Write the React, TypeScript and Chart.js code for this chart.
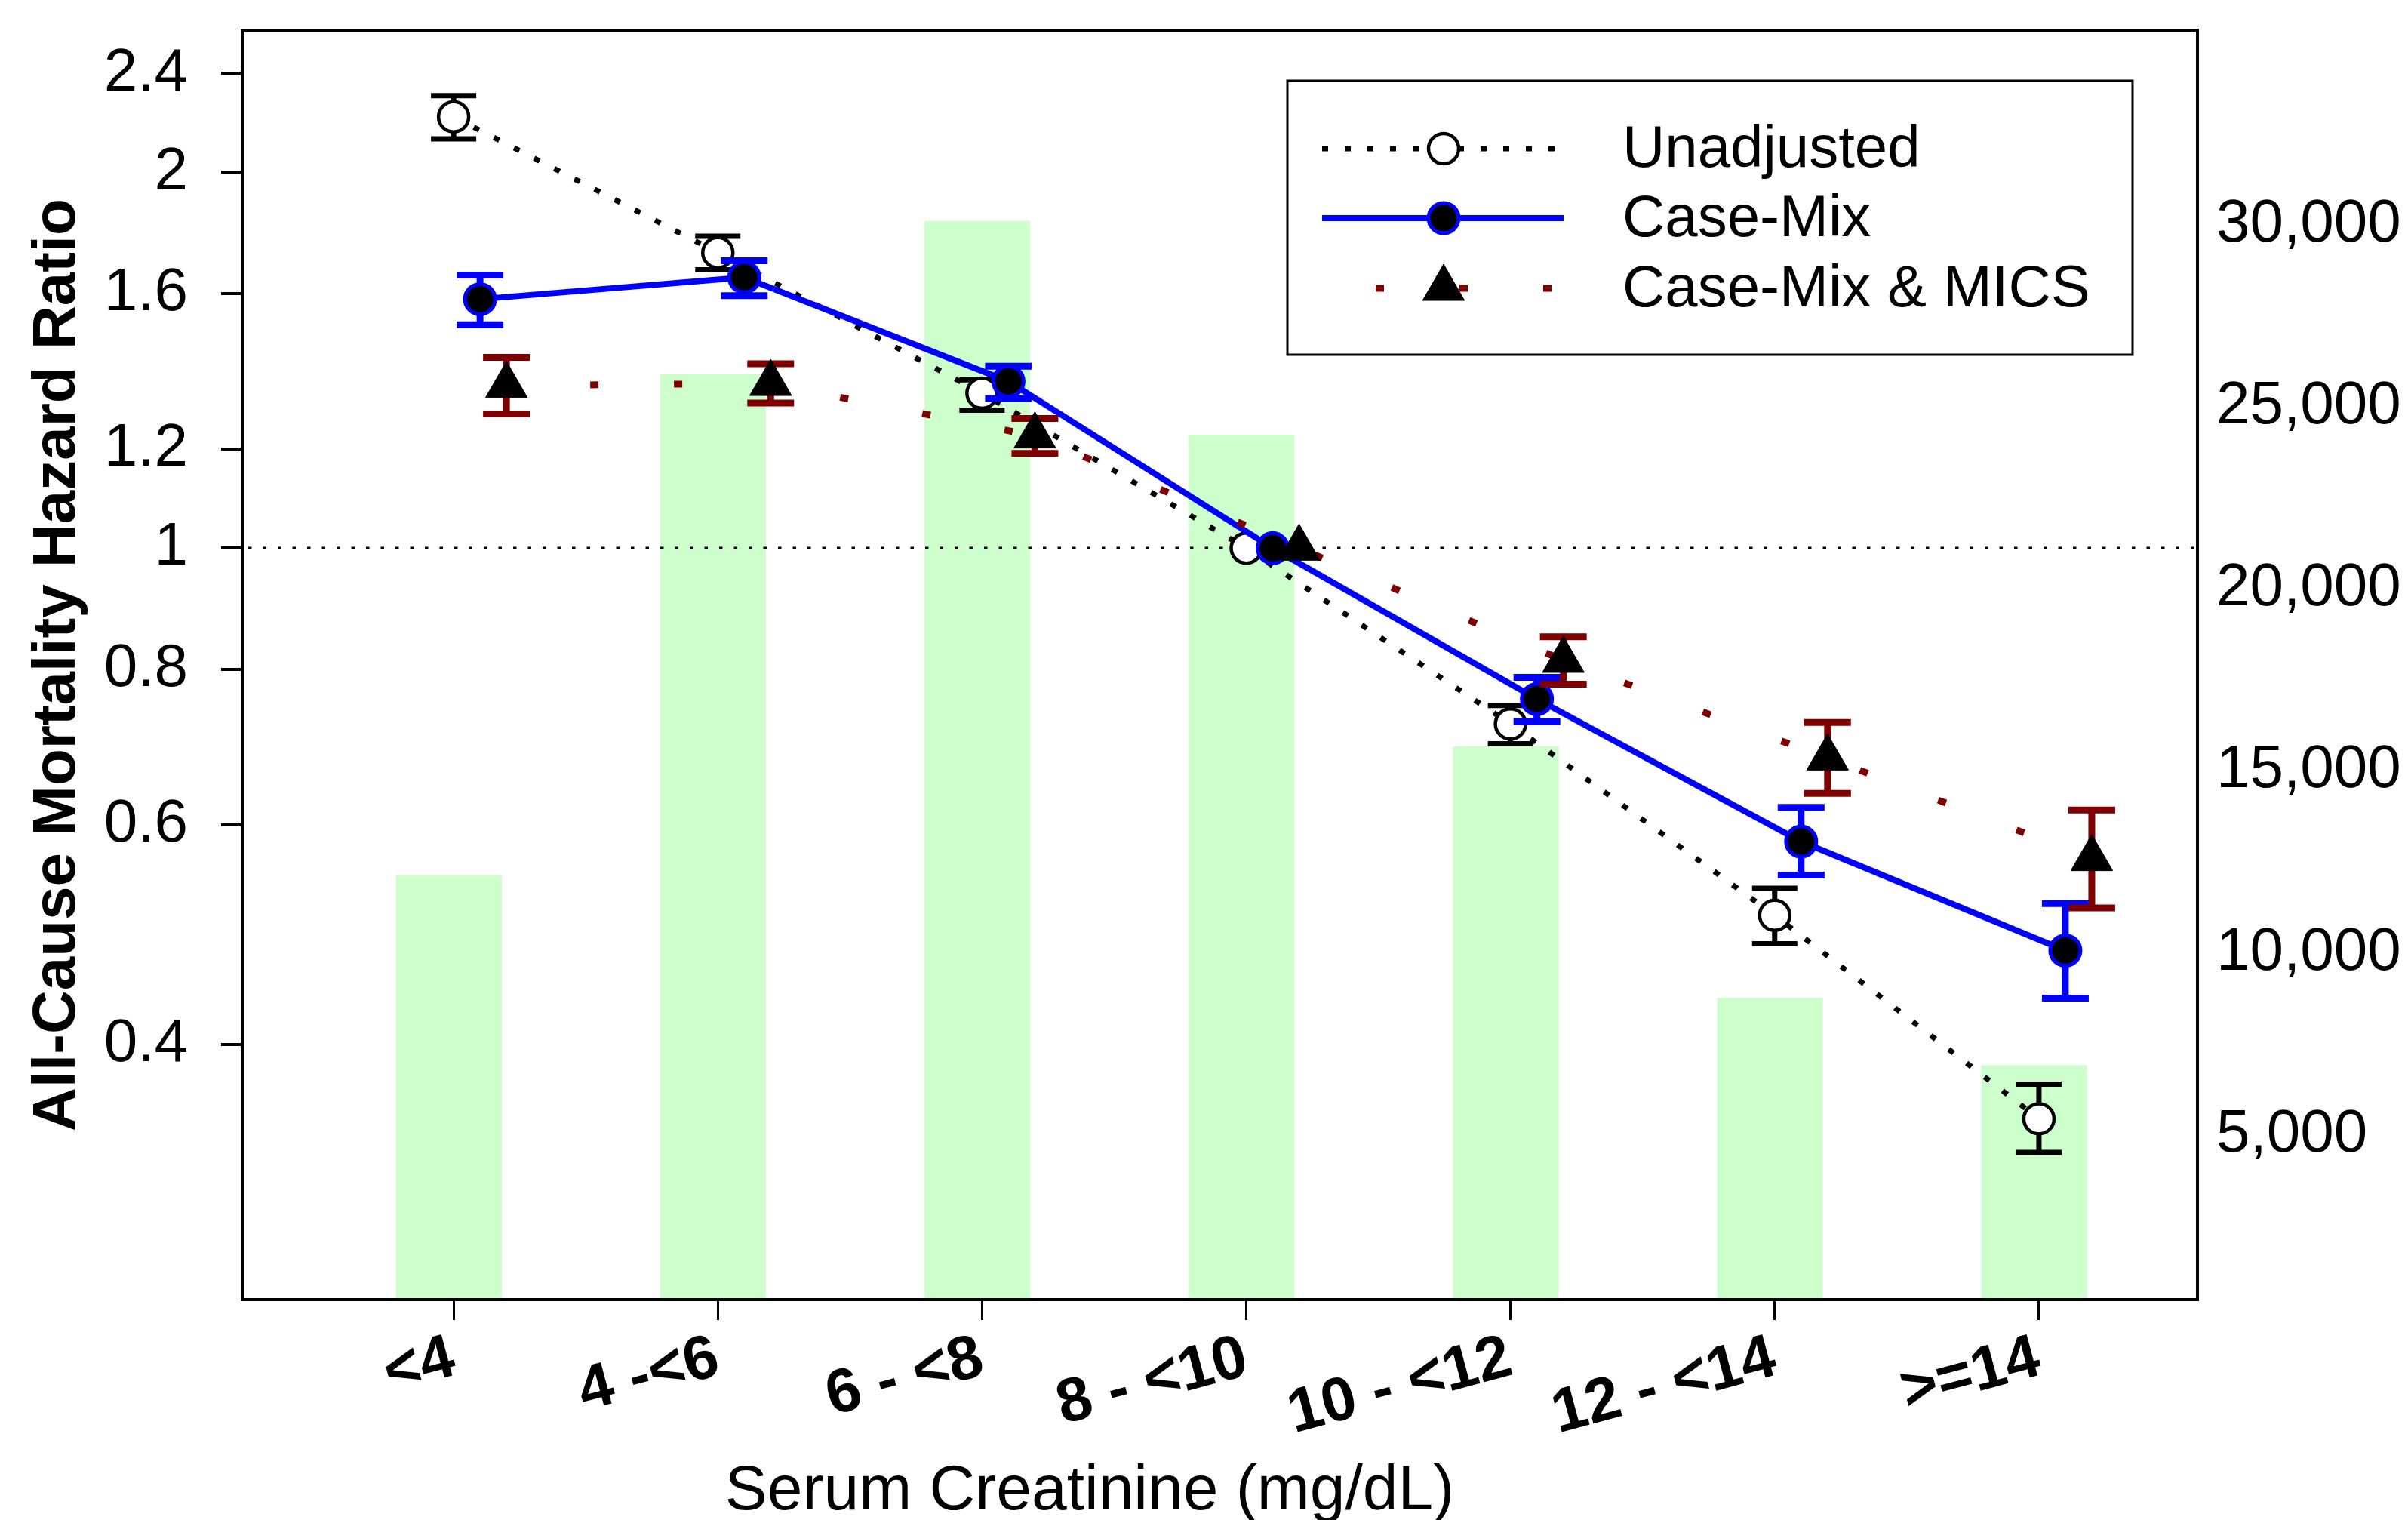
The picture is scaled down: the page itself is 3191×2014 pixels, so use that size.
import React, { useEffect, useRef } from 'react';
import { Chart, registerables } from 'chart.js';
import { drawPoint } from 'chart.js/helpers';

Chart.register(...registerables);

const FONT = "'Liberation Sans', Arial, Helvetica, sans-serif";

// ---------- data ----------
const categories = ['<4', '4 -<6', '6 - <8', '8 - <10', '10 - <12', '12 - <14', '>=14'];
const patientCounts = [12130, 25890, 30100, 24230, 15670, 8770, 6920];

const unadjustedHR = [2.216, 1.725, 1.331, 1.0, 0.723, 0.508, 0.349];
const unadjustedLower = [2.128, 1.671, 1.29, null, 0.697, 0.482, 0.328];
const unadjustedUpper = [2.304, 1.778, 1.364, null, 0.748, 0.534, 0.372];

const caseMixHR = [1.583, 1.648, 1.36, 1.0, 0.757, 0.582, 0.476];
const caseMixLower = [1.51, 1.593, 1.318, null, 0.726, 0.547, 0.436];
const caseMixUpper = [1.655, 1.699, 1.399, null, 0.788, 0.62, 0.519];

const micsHR = [1.35, 1.355, 1.23, 1.0, 0.813, 0.679, 0.564];
const micsLower = [1.281, 1.307, 1.191, null, 0.778, 0.636, 0.515];
const micsUpper = [1.422, 1.405, 1.27, null, 0.849, 0.725, 0.617];

const seriesLabels = ['Unadjusted', 'Case-Mix', 'Case-Mix & MICS'];
const hrTicks = [0.4, 0.6, 0.8, 1, 1.2, 1.6, 2, 2.4];
const countTicks = [5000, 10000, 15000, 20000, 25000, 30000];
const referenceHR = 1;

const xAxisTitle = 'Serum Creatinine (mg/dL)';
const yAxisTitle = 'All-Cause Mortality Hazard Ratio';

// ---------- layout constants ----------
const W = 3191;
const H = 2014;
const SERIES_SHIFT = [0, 0.1, 0.2];
const BAR_SHIFT = -0.018;

const toPoints = (vals: number[], shift: number) => vals.map((v, i) => ({ x: i + shift, y: v }));

const noPad = (s: any) => {
  s.paddingTop = 0;
  s.paddingBottom = 0;
  s.paddingLeft = 0;
  s.paddingRight = 0;
};

const overlayPlugin = {
  id: 'overlay',
  afterDatasetDraw(chart: any, args: any) {
    const ds = chart.data.datasets[args.index];
    if (ds.type !== 'bar') return;
    const { ctx, chartArea } = chart;
    const y = chart.scales.y.getPixelForValue(referenceHR);
    ctx.save();
    ctx.strokeStyle = '#000';
    ctx.lineWidth = 3.5;
    ctx.setLineDash([4.5, 15]);
    ctx.beginPath();
    ctx.moveTo(chartArea.left + 8, y);
    ctx.lineTo(chartArea.right, y);
    ctx.stroke();
    ctx.restore();
  },
  beforeDatasetDraw(chart: any, args: any) {
    const ds = chart.data.datasets[args.index];
    if (!ds.errLow) return;
    const { ctx } = chart;
    const xs = chart.scales.x;
    const ys = chart.scales.y;
    ctx.save();
    ctx.strokeStyle = ds.errColor;
    ctx.lineWidth = ds.errWidth;
    ctx.setLineDash([]);
    ctx.lineCap = 'butt';
    ds.data.forEach((pt: any, i: number) => {
      const lo = ds.errLow[i];
      const hi = ds.errHigh[i];
      if (lo == null || hi == null) return;
      const px = xs.getPixelForValue(pt.x);
      const pLo = ys.getPixelForValue(lo);
      const pHi = ys.getPixelForValue(hi);
      const c = ds.errCap;
      ctx.beginPath();
      ctx.moveTo(px, pLo);
      ctx.lineTo(px, pHi);
      ctx.moveTo(px - c, pLo);
      ctx.lineTo(px + c, pLo);
      ctx.moveTo(px - c, pHi);
      ctx.lineTo(px + c, pHi);
      ctx.stroke();
    });
    ctx.restore();
  },
  afterDraw(chart: any) {
    const { ctx, chartArea } = chart;
    const { left, top, right, bottom } = chartArea;
    ctx.save();
    // plot frame
    ctx.strokeStyle = '#000';
    ctx.lineWidth = 4;
    ctx.setLineDash([]);
    ctx.strokeRect(left, top, right - left, bottom - top);

    // legend
    const lg = { left: 1385, top: 67, width: 1120, height: 363, rows: [157, 249, 342], x0: 1431, x1: 1751, mx: 1592, tx: 1829 };
    ctx.lineWidth = 3;
    ctx.strokeRect(left + lg.left, top + lg.top, lg.width, lg.height);
    const lineSets = chart.data.datasets.filter((d: any) => d.type === 'line');
    lineSets.forEach((ds: any, k: number) => {
      const yy = top + lg.rows[k];
      ctx.save();
      ctx.strokeStyle = ds.borderColor;
      ctx.lineWidth = ds.borderWidth;
      ctx.lineCap = 'butt';
      ctx.setLineDash(ds.borderDash || []);
      ctx.lineDashOffset = ds.legendDashOffset || 0;
      ctx.beginPath();
      ctx.moveTo(left + lg.x0, yy);
      ctx.lineTo(left + lg.x1, yy);
      ctx.stroke();
      ctx.setLineDash([]);
      ctx.fillStyle = ds.pointBackgroundColor;
      ctx.strokeStyle = ds.pointBorderColor;
      ctx.lineWidth = ds.pointBorderWidth;
      drawPoint(ctx, { pointStyle: ds.pointStyle, radius: ds.pointRadius, rotation: 0, borderWidth: ds.pointBorderWidth }, left + lg.mx, yy);
      ctx.fillStyle = '#000';
      ctx.font = `78px ${FONT}`;
      ctx.textAlign = 'left';
      ctx.textBaseline = 'middle';
      ctx.fillText(ds.label, left + lg.tx, yy + 2);
      ctx.restore();
    });

    // x-axis title
    ctx.fillStyle = '#000';
    ctx.font = `84px ${FONT}`;
    ctx.textAlign = 'center';
    ctx.textBaseline = 'alphabetic';
    ctx.fillText(xAxisTitle, left + 1123, bottom + 278);
    ctx.restore();
  },
};

export default function App() {
  const canvasRef = useRef<HTMLCanvasElement | null>(null);

  useEffect(() => {
    const canvas = canvasRef.current;
    if (!canvas) return;

    const datasets: any[] = [
      {
        type: 'bar',
        label: 'Patients',
        data: patientCounts.map((v, i) => ({ x: i + BAR_SHIFT, y: v })),
        yAxisID: 'y1',
        xAxisID: 'x',
        backgroundColor: '#ccffcc',
        borderWidth: 0,
        barPercentage: 0.4,
        categoryPercentage: 1,
        order: 10,
      },
      {
        type: 'line',
        label: seriesLabels[0],
        data: toPoints(unadjustedHR, SERIES_SHIFT[0]),
        yAxisID: 'y',
        borderColor: '#000000',
        borderWidth: 7,
        borderDash: [8, 22],
        borderCapStyle: 'butt',
        pointStyle: 'circle',
        pointRadius: 20,
        pointBackgroundColor: '#ffffff',
        pointBorderColor: '#000000',
        pointBorderWidth: 4.5,
        tension: 0,
        fill: false,
        order: 3,
        errLow: unadjustedLower,
        errHigh: unadjustedUpper,
        errColor: '#000000',
        errWidth: 7,
        errCap: 30,
      },
      {
        type: 'line',
        label: seriesLabels[1],
        data: toPoints(caseMixHR, SERIES_SHIFT[1]),
        yAxisID: 'y',
        borderColor: '#0000ff',
        borderWidth: 8,
        pointStyle: 'circle',
        pointRadius: 20,
        pointBackgroundColor: '#000000',
        pointBorderColor: '#0000ff',
        pointBorderWidth: 5,
        tension: 0,
        fill: false,
        order: 2,
        errLow: caseMixLower,
        errHigh: caseMixUpper,
        errColor: '#0000ff',
        errWidth: 9,
        errCap: 31,
      },
      {
        type: 'line',
        label: seriesLabels[2],
        data: toPoints(micsHR, SERIES_SHIFT[2]),
        yAxisID: 'y',
        borderColor: '#7f0000',
        borderWidth: 9,
        borderDash: [11, 100],
        borderCapStyle: 'butt',
        legendDashOffset: -71,
        pointStyle: 'triangle',
        pointRadius: 32,
        pointBackgroundColor: '#000000',
        pointBorderColor: '#000000',
        pointBorderWidth: 1,
        tension: 0,
        fill: false,
        order: 1,
        errLow: micsLower,
        errHigh: micsUpper,
        errColor: '#7f0000',
        errWidth: 9,
        errCap: 31,
      },
    ];

    const chart = new Chart(canvas, {
      type: 'line',
      data: { datasets },
      plugins: [overlayPlugin],
      options: {
        responsive: false,
        animation: false,
        devicePixelRatio: 1,
        events: [],
        layout: { padding: { top: 40, left: 0, right: 0, bottom: 0 } },
        plugins: { legend: { display: false }, tooltip: { enabled: false } },
        scales: {
          x: {
            type: 'linear',
            position: 'bottom',
            min: -0.8,
            max: 6.6,
            offset: false,
            afterBuildTicks: (s: any) => {
              s.ticks = categories.map((_, i) => ({ value: i }));
            },
            afterFit: (s: any) => {
              s.height = 292;
              noPad(s);
            },
            border: { display: false },
            grid: { display: true, offset: false, drawOnChartArea: false, drawTicks: true, tickLength: 27, color: '#000', lineWidth: 3 },
            ticks: {
              autoSkip: false,
              minRotation: 15,
              maxRotation: 15,
              padding: 2,
              color: '#000',
              font: { family: FONT, size: 82, weight: 'bold' },
              callback: (v: any) => categories[Math.round(Number(v))] ?? '',
            },
          },
          y: {
            type: 'logarithmic',
            position: 'left',
            min: 0.25,
            max: 2.6,
            afterBuildTicks: (s: any) => {
              s.ticks = hrTicks.map((v) => ({ value: v }));
            },
            afterFit: (s: any) => {
              s.width = 321;
              noPad(s);
            },
            border: { display: false },
            grid: { display: true, drawOnChartArea: false, drawTicks: true, tickLength: 28, color: '#000', lineWidth: 4 },
            ticks: {
              padding: 44,
              color: '#000',
              font: { family: FONT, size: 80 },
              callback: (v: any) => String(v),
            },
            title: {
              display: true,
              text: yAxisTitle,
              color: '#000',
              font: { family: FONT, size: 80, weight: 'bold', lineHeight: 1.2 },
              padding: { top: 29, bottom: 0 },
            },
          },
          y1: {
            type: 'linear',
            position: 'right',
            min: 480,
            max: 35340,
            afterBuildTicks: (s: any) => {
              s.ticks = countTicks.map((v) => ({ value: v }));
            },
            afterFit: (s: any) => {
              s.width = W - 2912;
              noPad(s);
            },
            border: { display: false },
            grid: { display: false, drawOnChartArea: false, drawTicks: false },
            ticks: {
              padding: 25,
              color: '#000',
              font: { family: FONT, size: 80 },
              callback: (v: any) => Number(v).toLocaleString('en-US'),
            },
          },
        },
      } as any,
    });

    return () => chart.destroy();
  }, []);

  return (
    <div style={{ position: 'fixed', left: 0, top: 0, width: W, height: H, background: '#fff' }}>
      <canvas ref={canvasRef} width={W} height={H} style={{ width: W, height: H, display: 'block' }} />
    </div>
  );
}
